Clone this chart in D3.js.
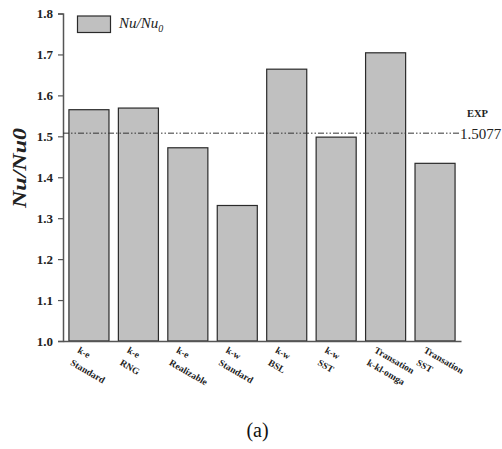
<!DOCTYPE html>
<html><head><meta charset="utf-8">
<script src="https://cdn.jsdelivr.net/npm/d3@7"></script>
<style>body{margin:0;background:#fff}svg{display:block}</style>
</head><body><svg id="c" width="502" height="449"></svg>
<script>
const line1 = ["k-e","k-e","k-e","k-w","k-w","k-w","Transation","Transation"];
const line2 = ["Standard","RNG","Realizable","Standard","BSL","SST","k-kl-omga","SST"];
const values = [1.565, 1.569, 1.472, 1.331, 1.664, 1.498, 1.704, 1.434];
const yTicks = [1.0,1.1,1.2,1.3,1.4,1.5,1.6,1.7,1.8];
const expValue = 1.5077;

const svg = d3.select("#c");
const x = d3.scaleBand().domain(d3.range(values.length)).range([63,461]).paddingInner(0.19).paddingOuter(0.12);
const y = d3.scaleLinear().domain([1.0,1.8]).range([341,13.5]);
const serif = '"Liberation Serif"';

// bars
svg.append("g").selectAll("rect").data(values).join("rect")
  .attr("x",(d,i)=>x(i)).attr("width",x.bandwidth())
  .attr("y",d=>y(d)).attr("height",d=>y(1.0)-y(d))
  .attr("fill","#c0c0c0").attr("stroke","#2a2a2a").attr("stroke-width",1.2);

// y axis
const ya = svg.append("g").attr("transform","translate(63,0)")
  .call(d3.axisLeft(y).tickValues(yTicks).tickFormat(d3.format(".1f")).tickSize(5).tickPadding(5));
ya.select(".domain").attr("stroke","#555").attr("stroke-width",1.5);
ya.selectAll(".tick line").attr("stroke","#555").attr("stroke-width",1.2);
ya.selectAll(".tick text").style("font-family",serif).style("font-weight","bold").style("font-size","13px").attr("fill","#222");

// x axis
const xa = svg.append("g").attr("transform","translate(0,341)")
  .call(d3.axisBottom(x).tickSize(0).tickFormat(""));
xa.select(".domain").attr("stroke","#555").attr("stroke-width",1.5);

// x labels
const lg = svg.append("g").selectAll("g").data(values).join("g")
  .attr("transform",(d,i)=>`translate(${x(i)+x.bandwidth()/2-12},352) rotate(30)`);
lg.append("text").text((d,i)=>line1[i]).style("font-family",serif).style("font-weight","bold").style("font-size","9.5px").attr("fill","#222");
lg.append("text").text((d,i)=>line2[i]).attr("y",14.5).style("font-family",serif).style("font-weight","bold").style("font-size","9.5px").attr("fill","#222");

// EXP line
svg.append("line").attr("x1",63).attr("x2",459).attr("y1",y(expValue)).attr("y2",y(expValue))
  .attr("stroke","#333").attr("stroke-width",1).attr("stroke-dasharray","6,2,1.5,2,1.5,2");
svg.append("text").attr("x",460).attr("y",y(expValue)+6).text(expValue)
  .style("font-family",serif).style("font-size","15px").attr("fill","#222");
svg.append("text").attr("x",467).attr("y",117).text("EXP")
  .style("font-family",serif).style("font-weight","bold").style("font-size","10.5px").attr("fill","#222");

// legend
svg.append("rect").attr("x",77.5).attr("y",16).attr("width",33).attr("height",16.5)
  .attr("fill","#c0c0c0").attr("stroke","#2a2a2a").attr("stroke-width",1.2);
const lt = svg.append("text").attr("x",119).attr("y",28).style("font-family",serif).style("font-style","italic").style("font-size","15px").attr("fill","#222");
lt.append("tspan").text("Nu/Nu");
lt.append("tspan").text("0").style("font-size","10px").attr("dy",4);

// y label
svg.append("text").attr("transform","translate(26,168) rotate(-90)").attr("text-anchor","middle")
  .attr("textLength",80).attr("lengthAdjust","spacingAndGlyphs")
  .style("font-family",serif).style("font-weight","bold").style("font-style","italic").style("font-size","19px").attr("fill","#222")
  .text("Nu/Nu0");

// caption
svg.append("text").attr("x",257.5).attr("y",437).attr("text-anchor","middle")
  .style("font-family",serif).style("font-size","20px").attr("fill","#111").text("(a)");
</script></body></html>
